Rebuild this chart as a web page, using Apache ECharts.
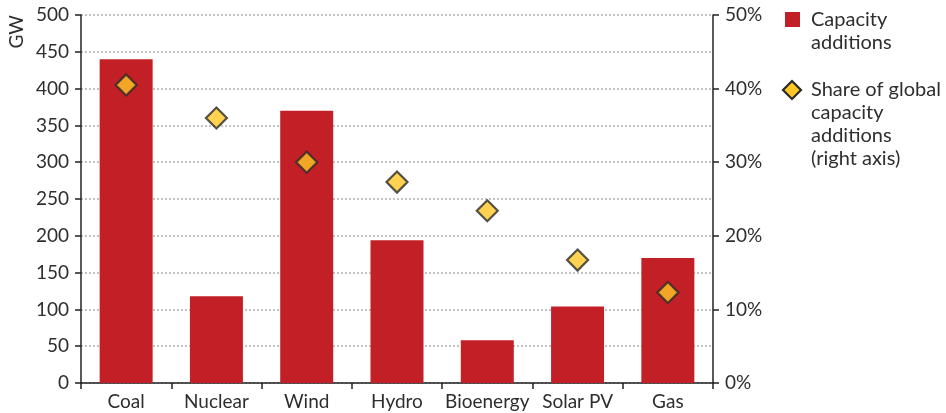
<!DOCTYPE html>
<html><head><meta charset="utf-8">
<script src="https://cdn.jsdelivr.net/npm/echarts@6/dist/echarts.min.js"></script>
<style>html,body{margin:0;padding:0;background:#fff}#c{width:946px;height:413px}</style>
</head><body><div id="c"></div>
<script>
const categories = ['Coal','Nuclear','Wind','Hydro','Bioenergy','Solar PV','Gas'];
const capacityGW = [440, 118, 370, 194, 58, 104, 170];
const sharePct = [40.5, 36.0, 30.0, 27.3, 23.4, 16.7, 12.3];
const leftTicks = {min: 0, max: 500, interval: 50};
const rightTicks = {min: 0, max: 50, interval: 10};

const font = 'Lato, "Open Sans", sans-serif';
const txt = '#2e2e2e';
const fs = 19;
const chart = echarts.init(document.getElementById('c'), null, {renderer: 'canvas'});
chart.setOption({
  animation: false,
  grid: {left: 81, right: 233, top: 15, bottom: 30},
  xAxis: {
    type: 'category', data: categories,
    axisLine: {lineStyle: {color: '#222', width: 1.5}},
    axisTick: {show: true, length: 6, lineStyle: {color: '#222', width: 1.5}},
    axisLabel: {color: txt, fontSize: fs, fontFamily: font, margin: 9, interval: 0}
  },
  yAxis: [{
    type: 'value', ...leftTicks,
    axisLine: {show: true, lineStyle: {color: '#222', width: 1.5}},
    axisTick: {show: true, length: 6, lineStyle: {color: '#222', width: 1.5}},
    axisLabel: {color: txt, fontSize: fs, fontFamily: font, margin: 12},
    splitLine: {lineStyle: {color: '#b0b0b0', type: [2, 2], width: 1.5}}
  }, {
    type: 'value', ...rightTicks, position: 'right',
    axisLine: {show: true, lineStyle: {color: '#222', width: 1.5}},
    axisTick: {show: true, length: 6, lineStyle: {color: '#222', width: 1.5}},
    axisLabel: {color: txt, fontSize: fs, fontFamily: font, margin: 12, formatter: '{value}%'},
    splitLine: {show: false}
  }],
  series: [{
    type: 'bar', name: 'Capacity additions', data: capacityGW, yAxisIndex: 0,
    barWidth: 53, itemStyle: {color: '#C22026'}
  }, {
    type: 'scatter', name: 'Share', data: sharePct, yAxisIndex: 1,
    symbol: 'diamond', symbolSize: 21,
    itemStyle: {color: '#FFC726', borderColor: '#2a2a2a', borderWidth: 2.2}, z: 5
  }],
  graphic: [
    {type: 'text', left: 7, top: 15, rotation: Math.PI/2, style: {text: 'GW', fontSize: fs, fontFamily: font, fill: txt}},
    {type: 'rect', shape: {x: 785, y: 12, width: 15, height: 15}, style: {fill: '#C22026'}},
    {type: 'text', left: 811, top: 8, style: {text: 'Capacity\nadditions', fontSize: 20, lineHeight: 23, fontFamily: font, fill: txt}},
    {type: 'polygon', shape: {points: [[792, 81], [801, 90], [792, 99], [783, 90]]}, style: {fill: '#FFC726', stroke: '#2a2a2a', lineWidth: 2.2}},
    {type: 'text', left: 811, top: 78, style: {text: 'Share of global\ncapacity\nadditions\n(right axis)', fontSize: 20, lineHeight: 23, fontFamily: font, fill: txt}}
  ]
});
</script></body></html>
